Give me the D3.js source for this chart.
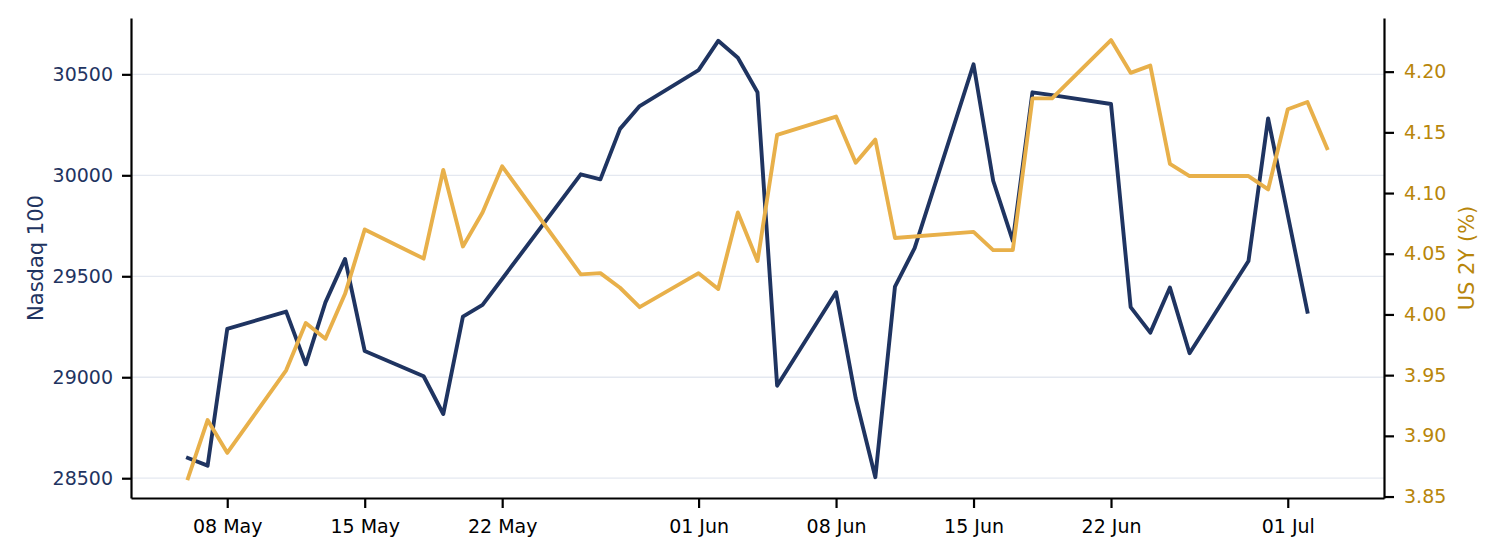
<!DOCTYPE html>
<html>
<head>
<meta charset="utf-8">
<script src="https://cdn.jsdelivr.net/npm/d3@7"></script>
<style>
  body { margin: 0; background: #fff; }
  svg { display: block; font-family: "DejaVu Sans", sans-serif; }
  .axis .domain, .axis line { stroke: #000; stroke-width: 2.2; }
  .grid line { stroke: #e4e8f0; stroke-width: 1.3; }
</style>
</head>
<body>
<svg id="chart" width="1497" height="557"></svg>
<script>
// trading days (weekdays; gaps are missing prints)
var dates = [
    "2020-05-06", "2020-05-07", "2020-05-08",
    "2020-05-11", "2020-05-12", "2020-05-13", "2020-05-14", "2020-05-15",
    "2020-05-18", "2020-05-19", "2020-05-20", "2020-05-21", "2020-05-22",
    "2020-05-26", "2020-05-27", "2020-05-28", "2020-05-29",
    "2020-06-01", "2020-06-02", "2020-06-03", "2020-06-04", "2020-06-05",
    "2020-06-08", "2020-06-09", "2020-06-10", "2020-06-11", "2020-06-12",
    "2020-06-15", "2020-06-16", "2020-06-17", "2020-06-18", "2020-06-19",
    "2020-06-22", "2020-06-23", "2020-06-24", "2020-06-25", "2020-06-26",
    "2020-06-29", "2020-06-30", "2020-07-01", "2020-07-02", "2020-07-03"
];

var nasdaq = [
    28600, 28562, 29239,
    29325, 29064, 29371, 29586, 29130,
    29005, 28818, 29300, 29358, null,
    30005, 29980, 30230, 30343,
    30521, 30666, 30582, 30411, 28958,
    29421, 28896, 28505, 29449, 29639,
    30550, 29973, 29675, 30411, 30397,
    30353, 29347, 29221, 29444, 29119,
    29576, 30282, null, 29325, null
];

var us2y = [
    3.865, 3.913, 3.886,
    3.954, 3.993, 3.980, 4.017, 4.070,
    4.046, 4.119, 4.056, 4.084, 4.122,
    4.033, 4.034, 4.022, 4.006,
    4.034, 4.021, 4.084, 4.044, 4.148,
    4.163, 4.125, 4.144, 4.063, null,
    4.068, 4.053, 4.053, 4.178, 4.178,
    4.226, 4.199, 4.205, 4.124, 4.114,
    4.114, 4.103, 4.169, 4.175, 4.137
];

var xTicks = ["2020-05-08", "2020-05-15", "2020-05-22", "2020-06-01",
              "2020-06-08", "2020-06-15", "2020-06-22", "2020-07-01"];
var nasdaqTicks = [28500, 29000, 29500, 30000, 30500];
var us2yTicks = [3.85, 3.90, 3.95, 4.00, 4.05, 4.10, 4.15, 4.20];

var navy = "#1f3461",
    gold = "#e8b04a",
    goldText = "#b8860b";

var parseDate = d3.timeParse("%Y-%m-%d");

var svg = d3.select("#chart"),
    margin = { top: 18, right: 113, bottom: 59, left: 131 },
    width = 1497 - margin.left - margin.right,
    height = 557 - margin.top - margin.bottom;

// 5% margins on the time axis, like the original
var d0 = parseDate(dates[0]), d1 = parseDate(dates[dates.length - 1]),
    pad = (d1 - d0) * 0.05;

var x = d3.scaleTime()
    .domain([new Date(+d0 - pad), new Date(+d1 + pad)])
    .range([0, width]);
var yL = d3.scaleLinear().domain([28402, 30779]).range([height, 0]);
var yR = d3.scaleLinear().domain([3.8488, 4.2442]).range([height, 0]);

var g = svg.append("g")
    .attr("transform", "translate(" + margin.left + "," + margin.top + ")");

// horizontal grid from the left axis
g.append("g")
    .attr("class", "grid")
    .selectAll("line")
    .data(nasdaqTicks)
    .enter().append("line")
    .attr("x1", 0)
    .attr("x2", width)
    .attr("y1", function(d) { return yL(d); })
    .attr("y2", function(d) { return yL(d); });

function series(vals) {
    return dates.map(function(d, i) { return { date: parseDate(d), v: vals[i] }; })
        .filter(function(d) { return d.v != null; });
}

var lineL = d3.line()
    .x(function(d) { return x(d.date); })
    .y(function(d) { return yL(d.v); });
var lineR = d3.line()
    .x(function(d) { return x(d.date); })
    .y(function(d) { return yR(d.v); });

g.append("path")
    .datum(series(nasdaq))
    .attr("fill", "none")
    .attr("stroke", navy)
    .attr("stroke-width", 3.9)
    .attr("stroke-linejoin", "round")
    .attr("stroke-linecap", "square")
    .attr("d", lineL);

g.append("path")
    .datum(series(us2y))
    .attr("fill", "none")
    .attr("stroke", gold)
    .attr("stroke-width", 3.9)
    .attr("stroke-linejoin", "round")
    .attr("stroke-linecap", "square")
    .attr("d", lineR);

// axes
var xAxis = d3.axisBottom(x)
    .tickValues(xTicks.map(parseDate))
    .tickFormat(d3.timeFormat("%d %b"))
    .tickSizeInner(10).tickSizeOuter(0).tickPadding(12);

var yAxisL = d3.axisLeft(yL)
    .tickValues(nasdaqTicks)
    .tickFormat(d3.format("d"))
    .tickSizeInner(9).tickSizeOuter(0).tickPadding(9);

var yAxisR = d3.axisRight(yR)
    .tickValues(us2yTicks)
    .tickFormat(d3.format(".2f"))
    .tickSizeInner(10).tickSizeOuter(0).tickPadding(10);

g.append("g")
    .attr("class", "axis axis--x")
    .attr("transform", "translate(0," + height + ")")
    .call(xAxis)
    .call(function(a) {
        a.selectAll("text").attr("fill", "#000");
    });

g.append("g")
    .attr("class", "axis axis--yl")
    .call(yAxisL)
    .call(function(a) {
        a.selectAll("text").attr("fill", navy);
    });

g.append("g")
    .attr("class", "axis axis--yr")
    .attr("transform", "translate(" + width + ",0)")
    .call(yAxisR)
    .call(function(a) {
        a.selectAll("text").attr("fill", goldText);
    });

g.selectAll(".axis")
    .attr("font-family", "DejaVu Sans, sans-serif")
    .attr("font-size", 19);

// axis titles
svg.append("text")
    .attr("transform", "translate(43," + (margin.top + height / 2) + ") rotate(-90)")
    .attr("text-anchor", "middle")
    .attr("fill", navy)
    .style("font-size", "21px")
    .text("Nasdaq 100");

svg.append("text")
    .attr("transform", "translate(1474," + (margin.top + height / 2) + ") rotate(-90)")
    .attr("text-anchor", "middle")
    .attr("fill", goldText)
    .style("font-size", "21px")
    .text("US 2Y (%)");
</script>
</body>
</html>
